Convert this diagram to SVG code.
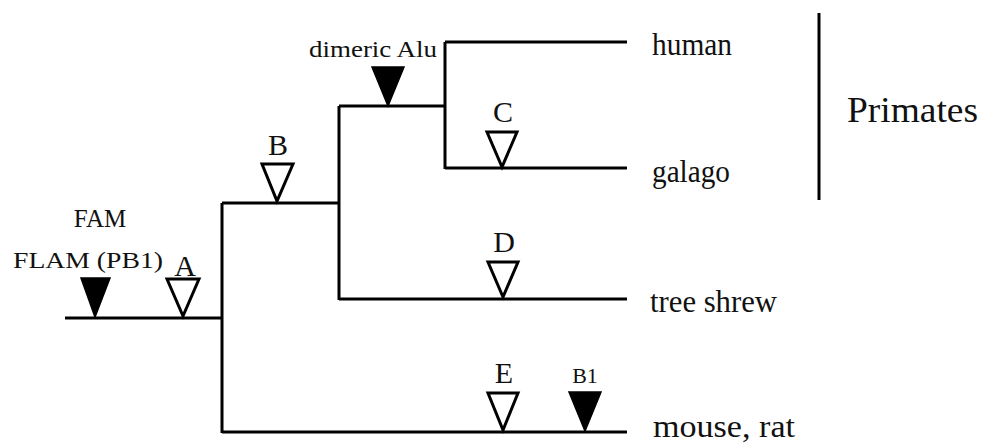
<svg xmlns="http://www.w3.org/2000/svg" width="990" height="444" viewBox="0 0 990 444">
<style>
.ln{stroke:#000;stroke-width:3;fill:none;stroke-linecap:butt}
.fill{fill:#000;stroke:#000;stroke-width:1.5;stroke-linejoin:miter}
.hollow{fill:#fff;stroke:#000;stroke-width:3;stroke-linejoin:miter}
text{font-family:"Liberation Serif","Times New Roman",serif;fill:#111}
.lbl{font-size:30px;text-anchor:middle}
.tax{font-size:31px}
.ev{text-anchor:middle}
</style>
<rect width="990" height="444" fill="#fff"/>
<g id="connectors">
<path class="ln" d="M65,318 H222 M222,203 V433 M222,203 H339 M222,432 H627 M339,106 V300 M339,299 H627 M339,106 H445 M445,42 V169 M445,42 H627 M445,168 H627"/>
<path class="ln" d="M819,13 V200"/>
</g>
<g id="FAM">
<polygon class="fill" points="81,278 110,278 95,317"/>
<text class="ev" x="100" y="227" style="font-size:25px">FAM</text>
<text x="13" y="268" style="font-size:24px" textLength="150" lengthAdjust="spacingAndGlyphs">FLAM (PB1)</text>
</g>
<g id="A">
<polygon class="hollow" points="167,279 199,279 183,316"/>
<text class="lbl" x="185" y="276">A</text>
</g>
<g id="B">
<polygon class="hollow" points="262,164 293,164 277,201"/>
<text class="lbl" x="278" y="155">B</text>
</g>
<g id="dimericAlu">
<polygon class="fill" points="372,67 404,67 388,106"/>
<text x="309" y="57" style="font-size:23px" textLength="128" lengthAdjust="spacingAndGlyphs">dimeric Alu</text>
</g>
<g id="C">
<polygon class="hollow" points="487,132 517,132 502,167"/>
<text class="lbl" x="503" y="122">C</text>
</g>
<g id="D">
<polygon class="hollow" points="488,262 518,262 503,297"/>
<text class="lbl" x="504" y="252">D</text>
</g>
<g id="E">
<polygon class="hollow" points="488,393 518,393 503,430"/>
<text class="lbl" x="504" y="383">E</text>
</g>
<g id="B1">
<polygon class="fill" points="569,392 601,392 585,431"/>
<text class="ev" x="585" y="383" style="font-size:22px">B1</text>
</g>
<g id="human"><text class="tax" x="652" y="55" textLength="80" lengthAdjust="spacingAndGlyphs">human</text></g>
<g id="galago"><text class="tax" x="652" y="182" textLength="78" lengthAdjust="spacingAndGlyphs">galago</text></g>
<g id="treeshrew"><text class="tax" x="650" y="312" textLength="127" lengthAdjust="spacingAndGlyphs">tree shrew</text></g>
<g id="mouserat"><text class="tax" x="653" y="437" textLength="142" lengthAdjust="spacingAndGlyphs">mouse, rat</text></g>
<g id="Primates"><text x="847" y="122" style="font-size:36px" textLength="131" lengthAdjust="spacingAndGlyphs">Primates</text></g>
</svg>
